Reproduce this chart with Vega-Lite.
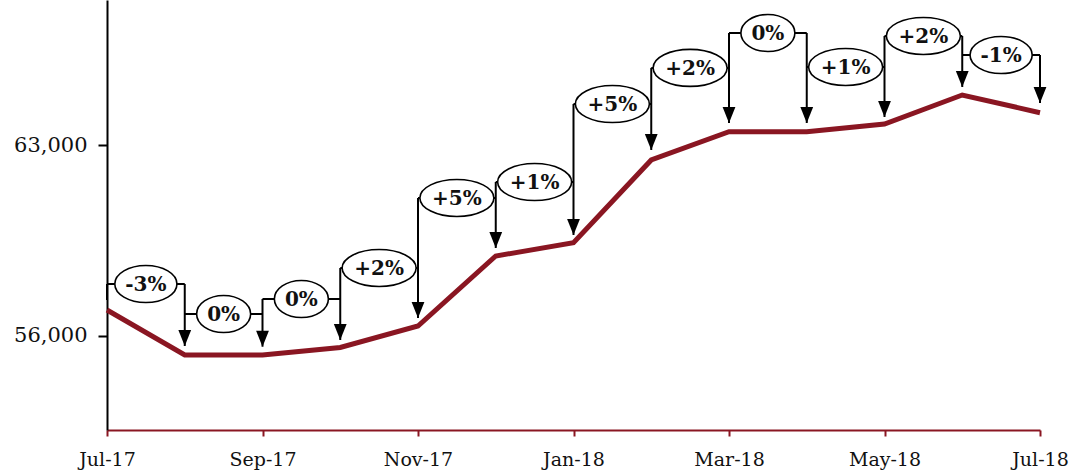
{
  "$schema": "https://vega.github.io/schema/vega-lite/v6.json",
  "width": 933,
  "height": 430,
  "autosize": "none",
  "padding": {"left": 107, "right": 30, "top": 0, "bottom": 42},
  "background": "white",
  "config": {"view": {"stroke": null}},
  "datasets": {
    "points": [
      {"t": 0, "month": "Jul-17", "value": 56943},
      {"t": 1, "month": "Aug-17", "value": 55292, "tip": 55622},
      {"t": 2, "month": "Sep-17", "value": 55292, "tip": 55596},
      {"t": 3, "month": "Oct-17", "value": 55567, "tip": 55842},
      {"t": 4, "month": "Nov-17", "value": 56356, "tip": 56650},
      {"t": 5, "month": "Dec-17", "value": 58925, "tip": 59220},
      {"t": 6, "month": "Jan-18", "value": 59414, "tip": 59697},
      {"t": 7, "month": "Feb-18", "value": 62450, "tip": 62817},
      {"t": 8, "month": "Mar-18", "value": 63489, "tip": 63808},
      {"t": 9, "month": "Apr-18", "value": 63489, "tip": 63808},
      {"t": 10, "month": "May-18", "value": 63772, "tip": 64028},
      {"t": 11, "month": "Jun-18", "value": 64836, "tip": 65130},
      {"t": 12, "month": "Jul-18", "value": 64186, "tip": 64539}
    ],
    "stems": [
      {"t": 0, "top": 57898, "bottom": 57311},
      {"t": 1, "top": 57898, "bottom": 55622},
      {"t": 2, "top": 57347, "bottom": 55596},
      {"t": 3, "top": 58485, "bottom": 55842},
      {"t": 4, "top": 61055, "bottom": 56650},
      {"t": 5, "top": 61641, "bottom": 59220},
      {"t": 6, "top": 64504, "bottom": 59697},
      {"t": 7, "top": 65830, "bottom": 62817},
      {"t": 8, "top": 67113, "bottom": 63808},
      {"t": 9, "top": 67113, "bottom": 63808},
      {"t": 10, "top": 67002, "bottom": 64028},
      {"t": 11, "top": 67002, "bottom": 65130},
      {"t": 12, "top": 66304, "bottom": 64539}
    ],
    "changes": [
      {"from": 0, "to": 1, "mid": 0.5, "level": 57898, "label": "-3%"},
      {"from": 1, "to": 2, "mid": 1.5, "level": 56797, "label": "0%"},
      {"from": 2, "to": 3, "mid": 2.5, "level": 57347, "label": "0%"},
      {"from": 3, "to": 4, "mid": 3.5, "level": 58485, "label": "+2%"},
      {"from": 4, "to": 5, "mid": 4.5, "level": 61055, "label": "+5%"},
      {"from": 5, "to": 6, "mid": 5.5, "level": 61641, "label": "+1%"},
      {"from": 6, "to": 7, "mid": 6.5, "level": 64504, "label": "+5%"},
      {"from": 7, "to": 8, "mid": 7.5, "level": 65830, "label": "+2%"},
      {"from": 8, "to": 9, "mid": 8.5, "level": 67113, "label": "0%"},
      {"from": 9, "to": 10, "mid": 9.5, "level": 65864, "label": "+1%"},
      {"from": 10, "to": 11, "mid": 10.5, "level": 67002, "label": "+2%"},
      {"from": 11, "to": 12, "mid": 11.5, "level": 66304, "label": "-1%"}
    ]
  },
  "layer": [
    {
      "data": {"name": "points"},
      "mark": {"type": "line", "color": "#8A1622", "strokeWidth": 5, "clip": false},
      "encoding": {
        "x": {
          "field": "t", "type": "quantitative",
          "scale": {"domain": [0, 12], "nice": false, "zero": false},
          "axis": {
            "title": null, "values": [0, 2, 4, 6, 8, 10, 12], "grid": false,
            "labelExpr": "['Jul-17','Aug-17','Sep-17','Oct-17','Nov-17','Dec-17','Jan-18','Feb-18','Mar-18','Apr-18','May-18','Jun-18','Jul-18'][datum.value]",
            "domainColor": "#8A1622", "domainWidth": 2, "tickColor": "#8A1622", "tickWidth": 2, "tickSize": 6,
            "labelFont": "DejaVu Serif", "labelFontSize": 19, "labelColor": "#111111", "labelPadding": 14,
            "labelFlush": false, "labelOverlap": false
          }
        },
        "y": {
          "field": "value", "type": "quantitative",
          "scale": {"domain": [52538, 68323], "nice": false, "zero": false},
          "axis": {
            "title": null, "values": [56000, 63000], "format": ",.0f", "grid": false,
            "domainColor": "#000000", "domainWidth": 2, "tickColor": "#000000", "tickWidth": 2, "tickSize": 9,
            "labelFont": "DejaVu Serif", "labelFontSize": 21, "labelColor": "#111111", "labelPadding": 11
          }
        }
      }
    },
    {
      "mark": {"type": "rule", "color": "#8A1622", "strokeWidth": 2},
      "encoding": {"x": {"datum": 12, "type": "quantitative"}}
    },
    {
      "data": {"name": "stems"},
      "mark": {"type": "rule", "color": "#000000", "strokeWidth": 2},
      "encoding": {
        "x": {"field": "t", "type": "quantitative"},
        "y": {"field": "top", "type": "quantitative"},
        "y2": {"field": "bottom"}
      }
    },
    {
      "data": {"name": "changes"},
      "mark": {"type": "rule", "color": "#000000", "strokeWidth": 2},
      "encoding": {
        "x": {"field": "from", "type": "quantitative"},
        "x2": {"field": "to"},
        "y": {"field": "level", "type": "quantitative"}
      }
    },
    {
      "data": {"name": "points"},
      "transform": [{"filter": "datum.t > 0"}],
      "mark": {"type": "point", "filled": true, "color": "#000000", "opacity": 1, "size": 256, "shape": "M -0.8,-2 L 0.8,-2 L 0,0 Z", "strokeWidth": 0},
      "encoding": {
        "x": {"field": "t", "type": "quantitative"},
        "y": {"field": "tip", "type": "quantitative"}
      }
    },
    {
      "data": {"name": "changes"},
      "mark": {"type": "point", "filled": false, "fill": "#ffffff", "fillOpacity": 1, "stroke": "#000000", "strokeWidth": 1.6, "opacity": 1, "size": 1369},
      "encoding": {
        "x": {"field": "mid", "type": "quantitative"},
        "y": {"field": "level", "type": "quantitative"},
        "shape": {
          "condition": [
            {"test": "datum.label === '0%'", "value": "M -1.46,0 A 1.46,1 0 1,1 1.46,0 A 1.46,1 0 1,1 -1.46,0 Z"},
            {"test": "indexof(datum.label, '-') === 0", "value": "M -1.68,0 A 1.68,1 0 1,1 1.68,0 A 1.68,1 0 1,1 -1.68,0 Z"}
          ],
          "value": "M -2.0,0 A 2.0,1 0 1,1 2.0,0 A 2.0,1 0 1,1 -2.0,0 Z"
        }
      }
    },
    {
      "data": {"name": "changes"},
      "mark": {"type": "text", "font": "DejaVu Serif", "fontWeight": "bold", "fontSize": 20, "color": "#111111", "align": "center", "baseline": "middle", "dy": 1},
      "encoding": {
        "x": {"field": "mid", "type": "quantitative"},
        "y": {"field": "level", "type": "quantitative"},
        "text": {"field": "label"}
      }
    }
  ]
}
